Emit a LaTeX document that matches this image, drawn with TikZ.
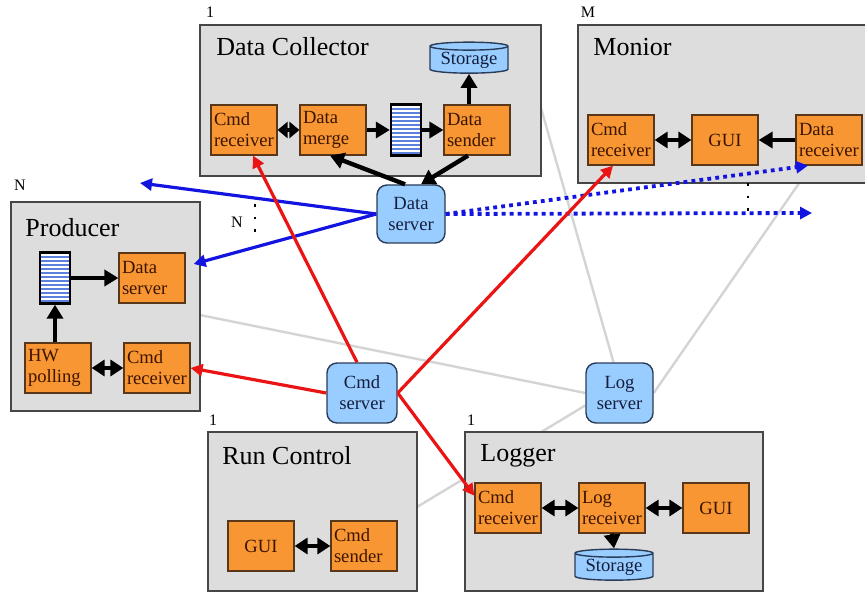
\documentclass[tikz,border=0pt]{standalone}
\usepackage{fontspec}
\setmainfont{Liberation Serif}
\usetikzlibrary{arrows.meta,shapes.geometric,backgrounds}

\definecolor{boxgray}{RGB}{221,221,221}
\definecolor{boxedge}{RGB}{70,70,70}
\definecolor{taskfill}{RGB}{247,150,50}
\definecolor{taskedge}{RGB}{90,55,25}
\definecolor{tasktext}{RGB}{60,20,0}
\definecolor{servfill}{RGB}{153,204,255}
\definecolor{servedge}{RGB}{40,60,90}
\definecolor{servtext}{RGB}{20,30,60}
\definecolor{stripeblue}{RGB}{90,130,220}
\definecolor{cmdred}{RGB}{235,20,20}
\definecolor{datablue}{RGB}{20,20,225}
\definecolor{loggray}{RGB}{212,212,212}

\newcommand{\smallfont}{\fontsize{9.3}{10.5}\selectfont}

\tikzset{
  sysbox/.style={draw=boxedge, fill=boxgray, line width=0.8pt, inner sep=0pt},
  title/.style={anchor=west, inner sep=0pt, font=\fontsize{13}{15}\selectfont},
  mult/.style={inner sep=0pt, font=\fontsize{8}{9}\selectfont},
  task/.style={draw=taskedge, fill=taskfill, line width=0.6pt, minimum width=33pt,
    minimum height=25pt, text width=30pt, inner xsep=1.5pt, inner ysep=0pt,
    align=left, font=\smallfont, text=tasktext},
  taskc/.style={task, align=center},
  server/.style={draw=servedge, fill=servfill, rounded corners=5pt, line width=0.7pt,
    minimum width=34pt, minimum height=29pt, inner sep=0pt, align=center,
    font=\smallfont, text=servtext},
  store/.style={cylinder, shape border rotate=90, aspect=0.14, draw=servedge,
    fill=servfill, line width=0.7pt, minimum width=39pt, minimum height=15.5pt,
    inner sep=0pt, font=\smallfont, text=servtext},
  buffer/.style={draw, line width=1.2pt, fill=white, minimum width=15pt,
    minimum height=25.5pt, inner sep=0pt,
    path picture={
      \foreach \k in {1,...,12}
        \draw[stripeblue, line width=0.9pt]
          ([yshift=\k*2pt-0.6pt]path picture bounding box.south west) --
          ([yshift=\k*2pt-0.6pt]path picture bounding box.south east);
    }},
  flow/.style={line width=2.2pt, -{Triangle[length=7pt,width=8pt]}},
  flow2/.style={line width=2.2pt, {Triangle[length=6.5pt,width=8pt]}-{Triangle[length=6.5pt,width=8pt]}},
  tight/.style={line width=2.2pt, {Triangle[length=5pt,width=8pt]}-{Triangle[length=5pt,width=8pt]}},
  cmdline/.style={draw=cmdred, line width=1.6pt, -{Triangle[length=6pt,width=6pt]}},
  dataline/.style={draw=datablue, line width=1.6pt, -{Triangle[length=6pt,width=6pt]}},
  datadot/.style={dataline, line width=1.9pt, dash pattern=on 1.9pt off 2.1pt},
  logline/.style={draw=loggray, line width=1.2pt},
  etc/.style={line width=1.3pt, dash pattern=on 1.3pt off 5pt},
}

\begin{document}
\begin{tikzpicture}[x=0.5pt, y=-0.5pt]
  \useasboundingbox (0,0) rectangle (865,592);

  % systems
  \node (dc)  [sysbox, minimum width=170.5pt, minimum height=75.5pt] at (370.5,100.5) {};
  \node (mon) [sysbox, minimum width=145pt, minimum height=79pt] at (723,104) {};
  \node (prod) [sysbox, minimum width=94.5pt, minimum height=104.5pt] at (105.5,306.5) {};
  \node (rc)  [sysbox, minimum width=104.5pt, minimum height=79.5pt] at (312.5,511.5) {};
  \node (log) [sysbox, minimum width=149pt, minimum height=79.5pt] at (614,511.5) {};

  \node [title] at (216,47) {Data Collector};
  \node [title] at (593,47) {Monior};
  \node [title] at (25,228) {Producer};
  \node [title] at (222,456) {Run Control};
  \node [title] at (480,456) {Logger};

  \node [mult] at (210,12) {1};
  \node [mult] at (588,12) {M};
  \node [mult] at (20,185) {N};
  \node [mult] at (213,420) {1};
  \node [mult] at (471,420) {1};
  \node [mult] at (237,222) {N};
  \draw[etc] (255,204) -- (255,238);
  \draw[etc] (748,183) -- (748,214);

  % data collector
  \node (dccmd)   [task] at (244,130) {Cmd\\receiver};
  \node (dcmerge) [task] at (333,130) {Data\\merge};
  \node (dcbuf)   [buffer] at (406,130) {};
  \node (dcsend)  [task] at (477,130) {Data\\sender};
  \node (dcstore) [store] at (469,60) {Storage};

  % monitor
  \node (mcmd)  [task] at (621,140) {Cmd\\receiver};
  \node (mgui)  [taskc] at (725,140) {GUI};
  \node (mrecv) [task] at (829,140) {Data\\receiver};

  % producer
  \node (pbuf)  [buffer] at (55,278) {};
  \node (pdata) [task] at (152,278) {Data\\server};
  \node (phw)   [task] at (58,368) {HW\\polling};
  \node (pcmd)  [task] at (157,368) {Cmd\\receiver};

  % run control
  \node (rgui)  [taskc] at (261,546) {GUI};
  \node (rsend) [task] at (364,546) {Cmd\\sender};

  % logger
  \node (lcmd)   [task] at (508,508) {Cmd\\receiver};
  \node (lrecv)  [task] at (612,508) {Log\\receiver};
  \node (lgui)   [taskc] at (716,508) {GUI};
  \node (lstore) [store] at (614,567) {Storage};

  % servers
  \node (dserv) [server] at (411,214) {Data\\server};
  \node (cserv) [server, minimum width=35pt, minimum height=30pt] at (362,393) {Cmd\\server};
  \node (lserv) [server, minimum width=33.5pt, minimum height=30pt] at (619.5,393) {Log\\server};

  \coordinate (nout) at (140,183);
  \coordinate (mout) at (812,213);
  \coordinate (dcg) at (541,108);
  \coordinate (pg) at (200,315);
  \coordinate (rg) at (417,507);

  % log messages
  \begin{pgfonlayer}{background}
    \draw[logline] (dcg) -- ([xshift=-3pt]lserv.north);
    \draw[logline] (pg) -- (lserv.west);
    \draw[logline] (rg) -- (lserv.200);
    \draw[logline] (lserv.east) -- (mrecv.center);
  \end{pgfonlayer}

  % internal flows
  \draw[tight] (dccmd) -- (dcmerge);
  \draw[flow] (dcmerge) -- (dcbuf);
  \draw[flow] (dcbuf) -- (dcsend);
  \draw[flow] (dcstore.south |- dcsend.north) -- (dcstore.south);
  \draw[flow] ([xshift=-3pt]dserv.north) -- ([xshift=-1.5pt]dcmerge.south);
  \draw[flow] ([xshift=-4.5pt]dcsend.south) -- ([xshift=5pt]dserv.north);
  \draw[flow2] (mcmd) -- (mgui);
  \draw[flow] (mrecv) -- (mgui);
  \draw[flow] (pbuf) -- (pdata);
  \draw[flow] (pbuf.south |- phw.north) -- (pbuf.south);
  \draw[flow2] (phw) -- (pcmd);
  \draw[flow2] (rgui) -- (rsend);
  \draw[flow2] (lcmd) -- (lrecv);
  \draw[flow2] (lrecv) -- (lgui);
  \draw[flow] (lrecv.south) -- (lstore.north);

  % data
  \draw[dataline] (dserv.west) -- (nout);
  \draw[dataline] (dserv.west) -- ([shift={(4pt,7pt)}]pdata.east);
  \draw[datadot] (dserv.east) -- ([xshift=-10.5pt]mrecv.south);
  \draw[datadot] (dserv.east) -- (mout);

  % commands
  \draw[cmdline] ([xshift=-2.5pt]cserv.north) -- ([xshift=4.5pt]dccmd.south);
  \draw[cmdline] (cserv.west) -- (pcmd.east);
  \draw[cmdline] (cserv.east) -- ([xshift=-4pt]mcmd.south);
  \draw[cmdline] (cserv.east) -- (lcmd.160);
\end{tikzpicture}
\end{document}
